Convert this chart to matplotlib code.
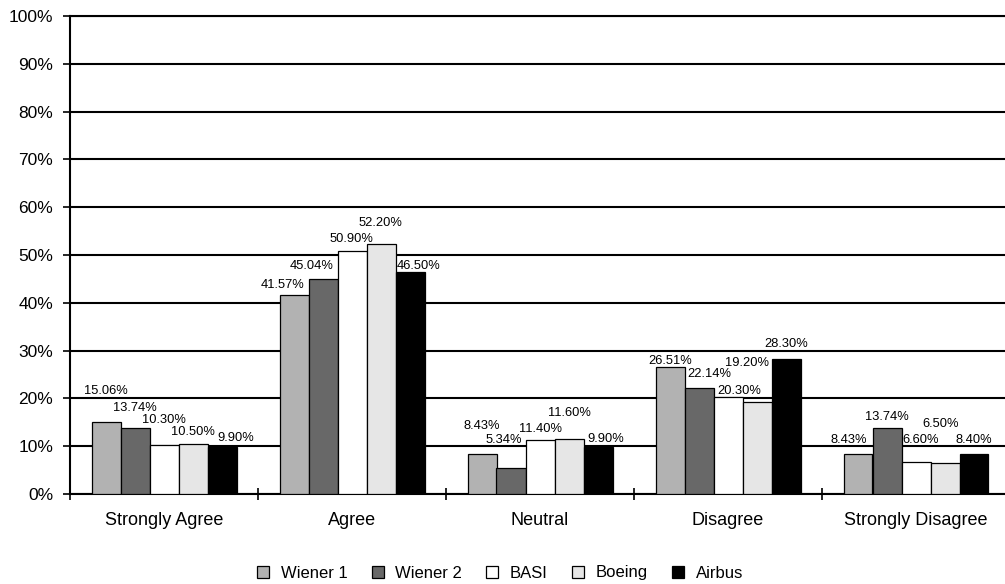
import matplotlib
matplotlib.use("Agg")
import matplotlib.pyplot as plt
import numpy as np

plt.rcParams['font.family'] = ['Liberation Sans', 'DejaVu Sans']

categories = ["Strongly Agree", "Agree", "Neutral", "Disagree", "Strongly Disagree"]
series = ["Wiener 1", "Wiener 2", "BASI", "Boeing", "Airbus"]
wiener1 = [15.06, 41.57, 8.43, 26.51, 8.43]
wiener2 = [13.74, 45.04, 5.34, 22.14, 13.74]
basi = [10.30, 50.90, 11.40, 20.30, 6.60]
boeing = [10.50, 52.20, 11.60, 19.20, 6.50]
airbus = [9.90, 46.50, 9.90, 28.30, 8.40]
values = [wiener1, wiener2, basi, boeing, airbus]

colors = ["#b2b2b2", "#686868", "#ffffff", "#e6e6e6", "#000000"]

# label offsets (pixels) from the top centre of each bar, as in the original
label_dx = [[0, -11.5, 0, 0, -9],
            [0, -11, -7, 10, 0],
            [0, -1, 0, 11.6, 4.6],
            [0, -1, 0, -10, -4.5],
            [14, 9, 7.5, 0, 0]]
label_dy = [[31, 10, 28, 6.6, 13.7],
            [20.6, 13, 28.5, 14, 11.6],
            [25, 12, 11, 6.3, 22.5],
            [12, 21, 26, 39, 39],
            [9, 6, 7.4, 14.7, 13.8]]

fig = plt.figure(figsize=(10.05, 5.84), dpi=100)
ax = fig.add_axes([70/1005, 90/584, 940/1005, 478/584])

x = np.arange(len(categories)) + 0.5
w = 29/188
for j, s in enumerate(series):
    xs = x + (j - 2) * w
    ax.bar(xs, values[j], width=w, color=colors[j], edgecolor="black",
           linewidth=0.9, label=s, zorder=3)
    for i, v in enumerate(values[j]):
        ax.annotate("%.2f%%" % v, xy=(xs[i], v),
                    xytext=(label_dx[j][i], label_dy[j][i]),
                    textcoords="offset pixels", ha="center", va="center",
                    fontsize=9.3, zorder=4)

ax.set_xlim(0, 5)
ax.set_ylim(0, 100)
ax.set_yticks(np.arange(0, 101, 10))
ax.set_yticklabels(["%d%%" % t for t in range(0, 101, 10)], fontsize=12.5)
ax.yaxis.grid(True, color="black", linewidth=1.5, zorder=0)
ax.set_axisbelow(True)

ax.set_xticks(np.arange(0, 6))
ax.set_xticklabels([])
ax.set_xticks(x, minor=True)
ax.set_xticklabels(categories, minor=True, fontsize=13)
ax.tick_params(axis="x", which="major", direction="inout", length=8, width=1.2)
ax.tick_params(axis="x", which="minor", length=0, pad=13)
ax.tick_params(axis="y", direction="out", length=5, width=1.2, pad=7)

ax.spines["right"].set_visible(False)
for side in ["left", "bottom", "top"]:
    ax.spines[side].set_linewidth(1.5)

fig.legend(loc="center", bbox_to_anchor=(500/1005, 11/584), ncol=5,
           frameon=False, fontsize=12, handlelength=0.72, handleheight=0.72,
           handletextpad=0.7, columnspacing=1.45)

fig.savefig("out.png", dpi=100)
